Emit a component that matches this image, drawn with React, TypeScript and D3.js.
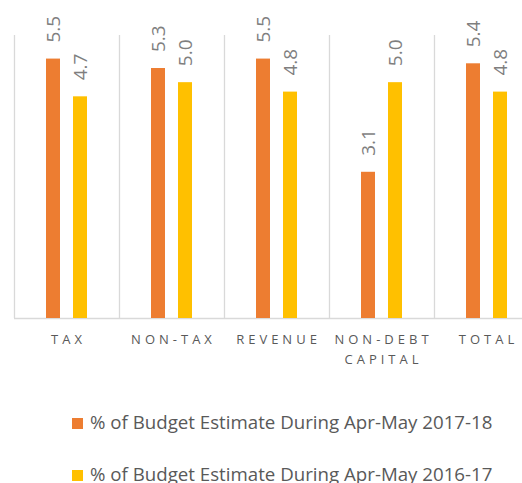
import { useRef, useEffect } from 'react';
import * as d3 from 'd3';

const categories = ['TAX', 'NON-TAX', 'REVENUE', 'NON-DEBT\nCAPITAL', 'TOTAL'];
const series = ['% of Budget Estimate During Apr-May 2017-18', '% of Budget Estimate During Apr-May 2016-17'];
const values2017 = [5.5, 5.3, 5.5, 3.1, 5.4];
const values2016 = [4.7, 5.0, 4.8, 5.0, 4.8];
const colors = ['#ED7D31', '#FFC000'];

function App() {
  const ref = useRef<SVGSVGElement>(null);

  useEffect(() => {
    const svg = d3.select(ref.current);
    svg.selectAll('*').remove();

    const top = 35, baseline = 318;
    const font = "'Open Sans', sans-serif";

    const x = d3.scaleBand().domain(categories).range([14, 539]);
    const x1 = d3.scaleBand().domain(series).range([32, 73]).paddingInner(0.4815);
    const y = d3.scaleLinear().domain([0, 6]).range([baseline, top]);

    // category separators
    const seps = categories.map(c => x(c));
    svg.append('g')
      .selectAll('line')
      .data(seps)
      .join('line')
      .attr('x1', d => d + 0.5)
      .attr('x2', d => d + 0.5)
      .attr('y1', top)
      .attr('y2', baseline)
      .attr('stroke', '#D9D9D9')
      .attr('stroke-width', 1.3);

    svg.append('line')
      .attr('x1', 14).attr('x2', 540)
      .attr('y1', baseline + 0.5).attr('y2', baseline + 0.5)
      .attr('stroke', '#D9D9D9')
      .attr('stroke-width', 1.3);

    const rows = categories.map((c, i) => [
      { cat: c, s: series[0], v: values2017[i], color: colors[0] },
      { cat: c, s: series[1], v: values2016[i], color: colors[1] },
    ]).flat();

    svg.append('g')
      .selectAll('rect')
      .data(rows)
      .join('rect')
      .attr('x', d => x(d.cat) + x1(d.s))
      .attr('width', x1.bandwidth())
      .attr('y', d => y(d.v))
      .attr('height', d => baseline - y(d.v))
      .attr('fill', d => d.color);

    // value labels
    svg.append('g')
      .selectAll('text')
      .data(rows)
      .join('text')
      .attr('transform', d => {
        const cx = x(d.cat) + x1(d.s) + x1.bandwidth() / 2;
        return `translate(${cx + 7},${y(d.v) - 16}) rotate(-90)`;
      })
      .attr('font-family', font)
      .attr('font-size', 19)
      .attr('fill', '#7F7F7F')
      .text(d => d.v.toFixed(1));

    // category labels
    const ls = 4;
    const labels = svg.append('g')
      .selectAll('text')
      .data(categories)
      .join('text')
      .attr('text-anchor', 'middle')
      .attr('font-family', font)
      .attr('font-size', 13)
      .attr('letter-spacing', ls)
      .attr('fill', '#595959');
    labels.each(function (c) {
      const t = d3.select(this);
      c.split('\n').forEach((line, i) => {
        t.append('tspan')
          .attr('x', x(c) + x.bandwidth() / 2 + ls / 2)
          .attr('y', 344 + i * 20)
          .text(line);
      });
    });

    // legend
    const legend = svg.append('g')
      .selectAll('g')
      .data(series)
      .join('g')
      .attr('transform', (d, i) => `translate(72,${418 + i * 52})`);
    legend.append('rect')
      .attr('width', 11)
      .attr('height', 11)
      .attr('fill', (d, i) => colors[i]);
    legend.append('text')
      .attr('x', 18)
      .attr('y', 11)
      .attr('font-family', font)
      .attr('font-size', 18.7)
      .attr('fill', '#595959')
      .text(d => d);
  }, []);

  return (
    <svg ref={ref} width={522} height={483}
      style={{ position: 'absolute', left: 0, top: 0, background: '#fff' }} />
  );
}

export default App;
